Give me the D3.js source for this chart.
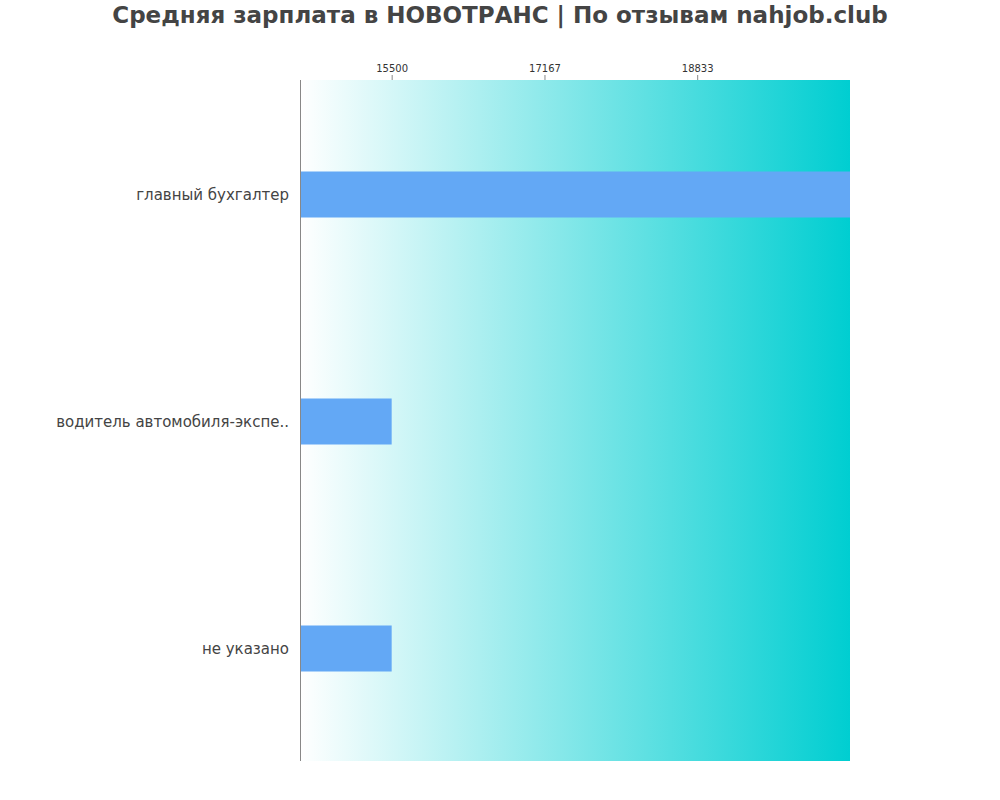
<!DOCTYPE html>
<html><head><meta charset="utf-8">
<script src="https://cdn.jsdelivr.net/npm/d3@7"></script>
<style>body{margin:0;background:#fff;font-family:"DejaVu Sans",sans-serif}</style>
</head><body><svg id="c" width="1000" height="800"></svg>
<script>
const categories = ["главный бухгалтер", "водитель автомобиля-экспе..", "не указано"];
const values = [20500, 15500, 15500];
const tickValues = [15500, 17167, 18833];
const domainX = [14500, 20500];

const svg = d3.select("#c");
const m = {l:300, r:850, t:80, b:761};
const x = d3.scaleLinear().domain(domainX).range([m.l, m.r]);
const y = d3.scaleBand().domain(categories).range([m.t, m.b]);

const defs = svg.append("defs");
const g = defs.append("linearGradient").attr("id","bg").attr("x1","0").attr("x2","1").attr("y1","0").attr("y2","0");
g.append("stop").attr("offset","0").attr("stop-color","#ffffff");
g.append("stop").attr("offset","1").attr("stop-color","#00CED1");
svg.append("rect").attr("x",m.l).attr("y",m.t).attr("width",m.r-m.l).attr("height",m.b-m.t).attr("fill","url(#bg)");

svg.append("text").attr("x",500).attr("y",23).attr("text-anchor","middle")
  .attr("font-size",23).attr("font-weight","bold").attr("fill","#444")
  .text("Средняя зарплата в НОВОТРАНС | По отзывам nahjob.club");

const bh = 46;
svg.selectAll(".bar").data(categories).enter().append("rect")
  .attr("x", m.l).attr("y", d => y(d) + y.bandwidth()/2 - bh/2 + 1)
  .attr("width", (d,i) => x(values[i]) - m.l).attr("height", bh).attr("fill", "#63A8F5");

const ax = svg.append("g").attr("transform",`translate(0,${m.t})`)
  .call(d3.axisTop(x).tickValues(tickValues).tickFormat(d3.format("d")).tickSize(5));
ax.select(".domain").remove();
ax.selectAll("line").attr("stroke","#888");
ax.selectAll("text").attr("font-size",10).attr("fill","#333").attr("font-family","DejaVu Sans");

svg.append("line").attr("x1",m.l+0.5).attr("x2",m.l+0.5).attr("y1",m.t).attr("y2",m.b).attr("stroke","#888");

svg.selectAll(".lab").data(categories).enter().append("text")
  .attr("x", 289).attr("y", d => y(d) + y.bandwidth()/2 + 6)
  .attr("text-anchor","end").attr("font-size",15).attr("fill","#444").text(d => d);
</script></body></html>
